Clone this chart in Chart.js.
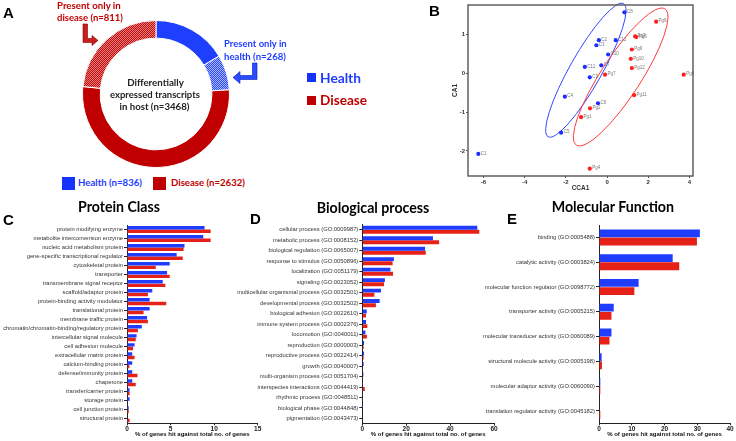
<!DOCTYPE html>
<html><head><meta charset="utf-8">
<script src="https://cdn.jsdelivr.net/npm/chart.js@4.4.0/dist/chart.umd.min.js"></script>
<style>
html,body{margin:0;padding:0;background:#fff;}
#root{position:relative;width:736px;height:441px;overflow:hidden;background:#fff;}
canvas{position:absolute;}
.t{position:absolute;white-space:nowrap;line-height:1;}
.letter{font-family:"Liberation Sans",Arial,sans-serif;font-weight:bold;font-size:15px;color:#000;}
.cal{font-family:Lato,"Open Sans",sans-serif;font-weight:bold;}
.sq{position:absolute;}
svg{position:absolute;left:0;top:0;}
</style></head>
<body><div id="root">
<canvas id="cA" width="148" height="148" style="left:82px;top:20px"></canvas>
<canvas id="cB" width="306" height="195" style="left:430px;top:0px"></canvas>
<canvas id="cC" width="270" height="246" style="left:0px;top:195px"></canvas>
<canvas id="cD" width="290" height="246" style="left:230px;top:195px"></canvas>
<canvas id="cE" width="266" height="246" style="left:470px;top:195px"></canvas>

<svg width="300" height="100" viewBox="0 0 300 100">
  <polygon points="83,24 87.5,24 87.5,38.5 92,38.5 92,35.5 98,40.5 92,45.5 92,42.5 83,42.5" fill="#c81e1e" stroke="#8b0000" stroke-width="0.6"/>
  <polygon points="257,63 252.5,63 252.5,75.5 240,75.5 240,71.5 233,77.5 240,83.5 240,79.5 257,79.5" fill="#2a4bff" stroke="#0020c0" stroke-width="0.6"/>
</svg>

<div class="t letter" style="left:3px;top:5px">A</div>
<div class="t letter" style="left:429px;top:3px">B</div>
<div class="t letter" style="left:3px;top:212px">C</div>
<div class="t letter" style="left:250px;top:211px">D</div>
<div class="t letter" style="left:507px;top:211px">E</div>

<div class="t cal" style="color:#c00000" data-x="57" data-w="64" data-cy="6">Present only in</div>
<div class="t cal" style="color:#c00000" data-x="57" data-w="66" data-cy="18">disease (n=811)</div>
<div class="t cal" style="color:#1f3cff" data-x="224" data-w="63" data-cy="44">Present only in</div>
<div class="t cal" style="color:#1f3cff" data-x="224" data-w="62" data-cy="57">health (n=268)</div>
<div class="t cal" style="color:#222" data-cx="155.5" data-w="56.7" data-cy="83">Differentially</div>
<div class="t cal" style="color:#222" data-cx="155" data-w="90" data-cy="95">expressed transcripts</div>
<div class="t cal" style="color:#222" data-cx="154.5" data-w="70" data-cy="107">in host (n=3468)</div>

<div class="sq" style="left:62px;top:177px;width:13px;height:13px;background:#1533ff"></div>
<div class="t cal" style="color:#1f3cff" data-x="78" data-w="64" data-cy="183">Health (n=836)</div>
<div class="sq" style="left:153px;top:177px;width:13px;height:13px;background:#c00000"></div>
<div class="t cal" style="color:#c00000" data-x="171" data-w="74" data-cy="183">Disease (n=2632)</div>

<div class="sq" style="left:307px;top:73px;width:9px;height:9px;background:#1533ff"></div>
<div class="t cal" style="color:#1f3cff" data-x="320" data-w="41" data-cy="78">Health</div>
<div class="sq" style="left:307px;top:96px;width:9px;height:9px;background:#c00000"></div>
<div class="t cal" style="color:#c00000" data-x="320" data-w="47" data-cy="101">Disease</div>

<div class="t cal" style="color:#000" data-x="78" data-w="82" data-cy="208">Protein Class</div>
<div class="t cal" style="color:#000" data-x="316.7" data-w="112.7" data-cy="208.5">Biological process</div>
<div class="t cal" style="color:#000" data-x="551.7" data-w="122.7" data-cy="208">Molecular Function</div>
</div>

<script>
// ---------------- DATA ----------------
// Panel A: doughnut slices
const donutLabels = ['Health (shared)', 'Present only in health', 'Disease (shared)', 'Present only in disease'];
const donutValues = [568, 268, 1821, 811];

// Panel B: CCA ordination
const healthSamples = ['C1','C2','C3','C4','C5','C6','C7','C8','C9','C10','C11','C12'];
const healthCCA1 = [-6.25, -0.40, -0.52, -2.05, -2.23, -0.44, -0.28, 0.84, -0.84, 0.05, -1.08, 0.42];
const healthCA1  = [-2.08, 0.86, 0.73, -0.60, -1.53, -0.77, 0.21, 1.58, -0.10, 0.49, 0.17, 0.86];
const diseaseSamples = ['Pg1','Pg2','Pg3','Pg4','Pg5','Pg6','Pg7','Pg8','Pg9','Pg10','Pg11','Pg12'];
const diseaseCCA1 = [-1.26, -0.83, 1.36, -0.84, 1.42, 2.38, -0.10, 3.72, 1.20, 1.15, 1.31, 1.20];
const diseaseCA1  = [-1.13, -0.90, 0.96, -2.46, 0.94, 1.34, -0.03, -0.03, 0.62, 0.38, -0.56, 0.14];
const ccaTicks = [-6, -4, -2, 0, 2, 4];
const caTicks = [-2, -1, 0, 1];
// ellipses: centre and two conjugate semi-axes, in data units
const healthEllipse  = {c:[-1.03, 0.085], u:[1.83, 1.72], v:[0.675, -0.203]};
const diseaseEllipse = {c:[0.66, -0.09],  u:[2.15, 1.76], v:[0.806, -0.278]};

// Panel C: Protein class
const proteinClasses = ['protein modifying enzyme','metabolite interconversion enzyme','nucleic acid metabolism protein','gene-specific transcriptional regulator','cytoskeletal protein','transporter','transmembrane signal receptor','scaffold/adaptor protein','protein-binding activity modulator','translational protein','membrane traffic protein','chromatin/chromatin-binding/regulatory protein','intercellular signal molecule','cell adhesion molecule','extracellular matrix protein','calcium-binding protein','defense/immunity protein','chaperone','transfer/carrier protein','storage protein','cell junction protein','structural protein'];
const proteinHealth  = [8.9, 8.75, 6.6, 5.7, 4.9, 4.6, 4.1, 2.9, 2.6, 2.6, 2.3, 1.7, 1.1, 0.87, 0.6, 0.6, 0.6, 0.6, 0.3, 0.3, 0.2, 0];
const proteinDisease = [9.6, 9.6, 6.5, 6.4, 3.3, 4.9, 4.4, 2.4, 4.5, 1.9, 2.4, 1.25, 1.0, 0.7, 0.87, 0.27, 1.2, 1.0, 0.3, 0.04, 0.2, 0.3];

// Panel D: Biological process
const bioProcesses = ['cellular process (GO:0009987)','metabolic process (GO:0008152)','biological regulation (GO:0065007)','response to stimulus (GO:0050896)','localization (GO:0051179)','signaling (GO:0023052)','multicellular organismal process (GO:0032501)','developmental process (GO:0032502)','biological adhesion (GO:0022610)','immune system process (GO:0002376)','locomotion (GO:0040011)','reproduction (GO:0000003)','reproductive process (GO:0022414)','growth (GO:0040007)','multi-organism process (GO:0051704)','interspecies interactions (GO:0044419)','rhythmic process (GO:0048511)','biological phase (GO:0044848)','pigmentation (GO:0043473)'];
const bioHealth  = [52.4, 32.2, 28.6, 14.4, 12.8, 10.3, 8.5, 7.9, 2.0, 1.7, 1.4, 0.8, 0.8, 0.6, 0.5, 0.3, 0.2, 0.05, 0];
const bioDisease = [53.3, 35.0, 28.9, 13.8, 14.0, 9.9, 5.5, 6.2, 1.7, 2.3, 2.1, 0.6, 0.6, 0.3, 0.15, 1.1, 0.05, 0, 0];

// Panel E: Molecular function
const molFunctions = ['binding (GO:0005488)','catalytic activity (GO:0003824)','molecular function regulator (GO:0098772)','transporter activity (GO:0005215)','molecular transducer activity (GO:0060089)','structural molecule activity (GO:0005198)','molecular adaptor activity (GO:0060090)','translation regulator activity (GO:0045182)'];
const molHealth  = [30.8, 22.5, 12.1, 4.5, 3.8, 0.8, 0.4, 0.2];
const molDisease = [29.9, 24.5, 10.8, 3.8, 3.2, 0.9, 0.4, 0.4];

const axisTitle = '% of genes hit against total no. of genes';

// ---------------- TEXT FITTING ----------------
(function fitText(){
  const m = document.createElement('canvas').getContext('2d');
  document.querySelectorAll('[data-w]').forEach(el => {
    const cs = getComputedStyle(el);
    m.font = cs.fontWeight + ' 100px ' + cs.fontFamily;
    const w = m.measureText(el.textContent).width;
    const fs = 100 * parseFloat(el.dataset.w) / w;
    el.style.fontSize = fs + 'px';
    el.style.top = (parseFloat(el.dataset.cy) - 0.53 * fs) + 'px';
    if (el.dataset.x !== undefined) el.style.left = el.dataset.x + 'px';
    else el.style.left = (parseFloat(el.dataset.cx) - parseFloat(el.dataset.w) / 2) + 'px';
  });
})();

const SANS = '"Liberation Sans", Arial, sans-serif';
Chart.defaults.font.family = SANS;

// ---------------- PANEL A ----------------
function makePattern(base, dot){
  const c = document.createElement('canvas'); c.width = c.height = 4;
  const g = c.getContext('2d'); g.fillStyle = base; g.fillRect(0,0,4,4);
  g.fillStyle = dot;
  for (let y=0;y<4;y++) for (let x=0;x<4;x++) if ((x+y)%2===0) g.fillRect(x,y,1,1);
  return g.createPattern(c, 'repeat');
}
new Chart(document.getElementById('cA'), {
  type: 'doughnut',
  data: { labels: donutLabels, datasets: [{
    data: donutValues,
    backgroundColor: ['#1f3fff', makePattern('#2a48ff', '#aab6ff'), '#c00000', makePattern('#c40a0a', '#e48080')],
    borderColor: '#ffffff', borderWidth: 1
  }]},
  options: { responsive: false, animation: false, cutout: '76%',
    layout: { padding: 0 },
    plugins: { legend: { display: false }, tooltip: { enabled: false } } }
});

// ---------------- PANEL B ----------------
const bPlugin = {
  id: 'bDecor',
  beforeDatasetsDraw(chart){
    const {ctx, scales:{x, y}} = chart;
    [[healthEllipse, '#3347ff'], [diseaseEllipse, '#ff3a3a']].forEach(([e, col]) => {
      const cx = x.getPixelForValue(e.c[0]), cy = y.getPixelForValue(e.c[1]);
      const ux = x.getPixelForValue(e.c[0] + e.u[0]) - cx, uy = y.getPixelForValue(e.c[1] + e.u[1]) - cy;
      const vx = x.getPixelForValue(e.c[0] + e.v[0]) - cx, vy = y.getPixelForValue(e.c[1] + e.v[1]) - cy;
      ctx.save();
      ctx.beginPath();
      ctx.transform(ux, uy, vx, vy, cx, cy);
      ctx.arc(0, 0, 1, 0, Math.PI * 2);
      ctx.restore();
      ctx.save(); ctx.strokeStyle = col; ctx.lineWidth = 1; ctx.stroke(); ctx.restore();
    });
  },
  afterDatasetsDraw(chart){
    const {ctx, chartArea: a} = chart;
    ctx.save();
    ctx.font = '4.5px ' + SANS; ctx.fillStyle = '#777'; ctx.textBaseline = 'middle';
    chart.data.datasets.forEach((ds, i) => {
      chart.getDatasetMeta(i).data.forEach((pt, j) => ctx.fillText(ds.names[j], pt.x + 2.5, pt.y - 0.5));
    });
    ctx.strokeStyle = '#555'; ctx.lineWidth = 1.4;
    ctx.strokeRect(a.left, a.top, a.width, a.height);
    ctx.restore();
  }
};
new Chart(document.getElementById('cB'), {
  type: 'scatter',
  data: { datasets: [
    { label: 'Health', names: healthSamples, data: healthCCA1.map((v, i) => ({x: v, y: healthCA1[i]})),
      backgroundColor: '#1e2cff', borderColor: '#1e2cff', pointRadius: 2.1, borderWidth: 0 },
    { label: 'Disease', names: diseaseSamples, data: diseaseCCA1.map((v, i) => ({x: v, y: diseaseCA1[i]})),
      backgroundColor: '#ff1f1f', borderColor: '#ff1f1f', pointRadius: 2.1, borderWidth: 0 }
  ]},
  options: { responsive: false, animation: false,
    layout: { padding: { left: 0, right: 43, top: 5, bottom: 0 } },
    plugins: { legend: { display: false }, tooltip: { enabled: false } },
    scales: {
      x: { type: 'linear', min: -6.75, max: 4.17,
        afterBuildTicks(s){ s.ticks = ccaTicks.map(v => ({value: v})); },
        ticks: { font: { size: 6, weight: 'bold' }, color: '#333', padding: 1 },
        grid: { drawOnChartArea: false, tickLength: 2, color: '#555' },
        border: { display: false },
        title: { display: true, text: 'CCA1', font: { size: 6.5, weight: 'bold' }, color: '#333', padding: { top: 0, bottom: 3 } },
        afterFit(s){ s.height = 19; } },
      y: { type: 'linear', min: -2.65, max: 1.77,
        afterBuildTicks(s){ s.ticks = caTicks.map(v => ({value: v})); },
        ticks: { font: { size: 6, weight: 'bold' }, color: '#333', padding: 1 },
        grid: { drawOnChartArea: false, tickLength: 2, color: '#555' },
        border: { display: false },
        title: { display: true, text: 'CA1', font: { size: 6.5, weight: 'bold' }, color: '#333', padding: { top: 21.8, bottom: 0 } },
        afterFit(s){ s.width = 38; } }
    } },
  plugins: [bPlugin]
});

// ---------------- PANELS C, D, E ----------------
function barChart(id, labels, health, disease, max, step, yWidth, xHeight, padRight, padTop, catPct){
  return new Chart(document.getElementById(id), {
    type: 'bar',
    data: { labels: labels, datasets: [
      { label: 'Health', data: health, backgroundColor: '#1f3cff', categoryPercentage: catPct, barPercentage: 0.96 },
      { label: 'Disease', data: disease, backgroundColor: '#e62117', categoryPercentage: catPct, barPercentage: 0.96 }
    ]},
    options: { responsive: false, animation: false, indexAxis: 'y',
      layout: { padding: { left: 0, right: padRight, top: padTop, bottom: 0 } },
      plugins: { legend: { display: false }, tooltip: { enabled: false } },
      scales: {
        x: { min: 0, max: max,
          ticks: { stepSize: step, font: { size: 6.5, weight: 'bold' }, color: '#222', padding: 0 },
          grid: { drawOnChartArea: false, tickLength: 2, color: '#222' },
          border: { display: true, color: '#222', width: 1 },
          title: { display: true, text: axisTitle, font: { size: 6, weight: 'bold' }, color: '#111', padding: { top: 0, bottom: 3.4 } },
          afterFit(s){ s.height = xHeight; } },
        y: {
          ticks: { font: { size: 5.8 }, color: '#333', padding: 1, autoSkip: false },
          grid: { drawOnChartArea: false, tickLength: 3, offset: false, color: '#222' },
          border: { display: true, color: '#222', width: 1 },
          afterFit(s){ s.width = yWidth; } }
      } }
  });
}
barChart('cC', proteinClasses, proteinHealth, proteinDisease, 15, 5, 127, 17.7, 12.3, 30, 0.8);
barChart('cD', bioProcesses, bioHealth, bioDisease, 60, 20, 132.3, 17.3, 26, 29.5, 0.78);
barChart('cE', molFunctions, molHealth, molDisease, 40, 10, 129, 17.7, 6, 30, 0.66);
</script>
</body></html>
